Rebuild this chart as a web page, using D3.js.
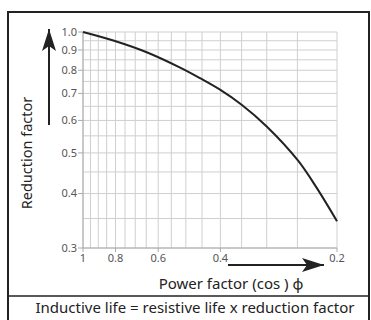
<!DOCTYPE html>
<html><head><meta charset="utf-8">
<script src="https://cdn.jsdelivr.net/npm/d3@7"></script>
<style>
html,body{margin:0;padding:0;background:#fff;}
svg{display:block;font-family:"Noto Sans","Open Sans",sans-serif;}
</style></head>
<body><svg id="c" width="371" height="320"></svg>
<script>
// ---- data ----
const powerFactor = [1.0, 0.812, 0.648, 0.519, 0.456, 0.401, 0.35, 0.3, 0.249, 0.224, 0.2];
const reductionFactor = [1.0, 0.951, 0.888, 0.812, 0.764, 0.715, 0.656, 0.58, 0.479, 0.413, 0.345];
const xTickValues = [1, 0.8, 0.6, 0.4, 0.2];
const xTickLabels = ["1", "0.8", "0.6", "0.4", "0.2"];
const yTickValues = [1.0, 0.9, 0.8, 0.7, 0.6, 0.5, 0.4, 0.3];
const yTickLabels = ["1.0", "0.9", "0.8", "0.7", "0.6", "0.5", "0.4", "0.3"];
const gridX = d3.range(20, 101, 5).map(v => v / 100);
const gridY = d3.range(30, 101, 5).map(v => v / 100);
const xTitle = "Power factor (cos ) \u03d5";
const yTitle = "Reduction factor";
const footer = "Inductive life = resistive life x reduction factor";
const OFFSET = 0.05;

// ---- scales ----
const xLog = d3.scaleLog().domain([1 - OFFSET, 0.2 - OFFSET]).range([83, 337]);
const yLog = d3.scaleLog().domain([1 - OFFSET, 0.3 - OFFSET]).range([32, 248]);
const x = v => xLog(v - OFFSET);
const y = v => yLog(v - OFFSET);

const svg = d3.select("#c");

// outer frame
svg.append("rect").attr("x", 8).attr("y", 12).attr("width", 361).attr("height", 320)
  .attr("fill", "none").attr("stroke", "#222").attr("stroke-width", 2);
svg.append("line").attr("x1", 8).attr("x2", 369).attr("y1", 296).attr("y2", 296)
  .attr("stroke", "#222").attr("stroke-width", 1.5);

// grid
const g = svg.append("g");
g.selectAll("line.gx").data(gridX).enter().append("line")
  .attr("x1", d => x(d)).attr("x2", d => x(d)).attr("y1", y(1)).attr("y2", y(0.3))
  .attr("stroke", "#cfcfcf").attr("stroke-width", 1);
g.selectAll("line.gy").data(gridY).enter().append("line")
  .attr("x1", x(1)).attr("x2", x(0.2)).attr("y1", d => y(d)).attr("y2", d => y(d))
  .attr("stroke", "#cfcfcf").attr("stroke-width", 1);

// axes
const yG = svg.append("g");
yG.append("line").attr("x1", x(1)).attr("x2", x(1)).attr("y1", y(1)).attr("y2", y(0.3)).attr("stroke", "#aaa");
yG.selectAll("g").data(yTickValues).enter().append("g").each(function(d, i) {
  const s = d3.select(this);
  s.append("line").attr("x1", x(1) - 5).attr("x2", x(1)).attr("y1", y(d)).attr("y2", y(d)).attr("stroke", "#aaa");
  s.append("text").attr("x", x(1) - 6).attr("y", y(d)).attr("dy", "0.35em")
    .attr("text-anchor", "end").attr("font-size", 11).attr("fill", "#555").text(yTickLabels[i]);
});
const xG = svg.append("g");
xG.append("line").attr("x1", x(1)).attr("x2", x(0.2)).attr("y1", y(0.3)).attr("y2", y(0.3)).attr("stroke", "#aaa");
xG.selectAll("g").data(xTickValues).enter().append("g").each(function(d, i) {
  const s = d3.select(this);
  s.append("line").attr("x1", x(d)).attr("x2", x(d)).attr("y1", y(0.3)).attr("y2", y(0.3) + 4).attr("stroke", "#aaa");
  s.append("text").attr("x", x(d)).attr("y", y(0.3) + 10).attr("dy", "0.35em")
    .attr("text-anchor", "middle").attr("font-size", 11).attr("fill", "#555").text(xTickLabels[i]);
});

// curve
const line = d3.line().x(d => x(d[0])).y(d => y(d[1])).curve(d3.curveCatmullRom.alpha(0.5));
svg.append("path").datum(powerFactor.map((p, i) => [p, reductionFactor[i]]))
  .attr("d", line).attr("fill", "none").attr("stroke", "#222").attr("stroke-width", 2);

// arrows
svg.append("defs").append("marker").attr("id", "ah").attr("viewBox", "0 0 22 14")
  .attr("refX", 22).attr("refY", 7).attr("markerWidth", 22).attr("markerHeight", 14)
  .attr("markerUnits", "userSpaceOnUse").attr("orient", "auto")
  .append("path").attr("d", "M0,0 L22,7 L0,14 L5,7 Z").attr("fill", "#222");
svg.append("line").attr("x1", 228).attr("x2", 324).attr("y1", 265).attr("y2", 265)
  .attr("stroke", "#222").attr("stroke-width", 2).attr("marker-end", "url(#ah)");
svg.append("line").attr("x1", 49).attr("x2", 49).attr("y1", 125).attr("y2", 29)
  .attr("stroke", "#222").attr("stroke-width", 2).attr("marker-end", "url(#ah)");

// titles
svg.append("text").attr("x", 231).attr("y", 289).attr("text-anchor", "middle")
  .attr("font-size", 15).attr("fill", "#222").text(xTitle);
svg.append("text").attr("transform", "translate(32,153) rotate(-90)").attr("text-anchor", "middle")
  .attr("font-size", 14.5).attr("fill", "#222").text(yTitle);
svg.append("text").attr("x", 195).attr("y", 313).attr("text-anchor", "middle")
  .attr("font-size", 15).attr("fill", "#222").text(footer);
</script></body></html>
